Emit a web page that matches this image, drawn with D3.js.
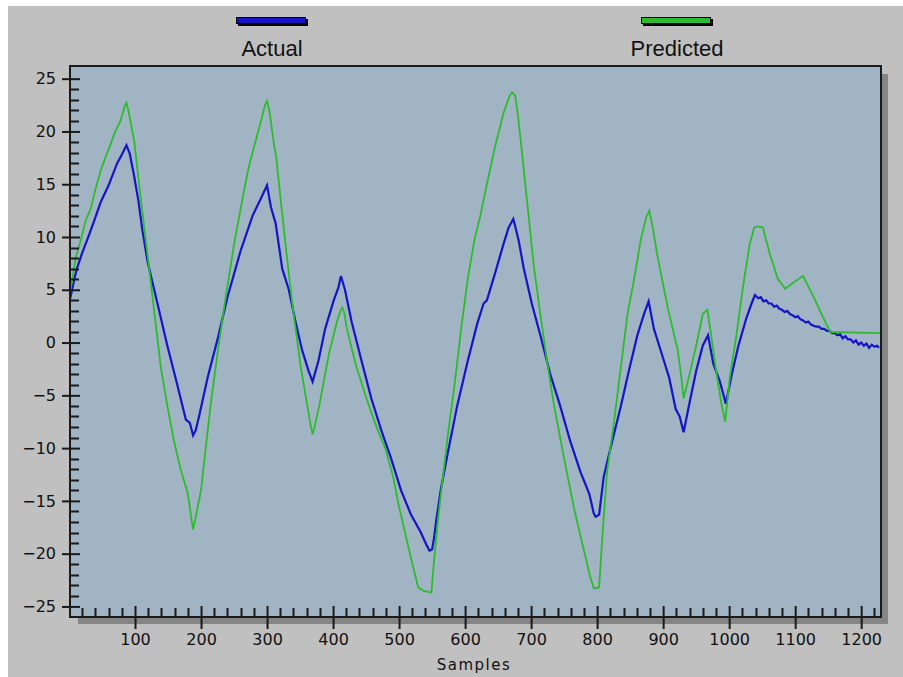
<!DOCTYPE HTML>
<html lang="en">
<head>
<meta charset="utf-8">
<title>Actual vs Predicted</title>
<style media="screen">
html, body {
    margin: 0;
    padding: 0;
    background: #fff;
 }

#chart {
    display: block;
 }

.tick-label {
    font-family: "DejaVu Sans", Verdana, sans-serif;
    font-size: 16px;
    fill: #111;
 }

.legend-label {
    font-family: "Liberation Sans", Arial, sans-serif;
    font-size: 22px;
    fill: #111;
 }

.axis-title {
    font-family: "DejaVu Sans", Verdana, sans-serif;
    font-size: 15px;
    letter-spacing: 1.5px;
    fill: #111;
 }
</style>
</head>
<body>

<svg id="chart" width="903" height="677"></svg>

<script src="https://cdn.jsdelivr.net/npm/d3@7/dist/d3.min.js"></script>
<script>
(function() {
   'use strict';

// Data
const actualSamples = [1, 4, 8, 12, 20, 28, 38, 48, 60, 73, 80, 87, 92, 98, 105, 111, 119, 126, 134, 149,
  164, 177, 183, 188, 192, 197, 210, 225, 240, 260, 278, 291, 300, 306, 313, 323, 333, 343, 353, 363,
  369, 378, 388, 401, 408, 412, 418, 428, 443, 458, 473, 488, 503, 518, 533, 541, 546, 550, 553, 556,
  563, 573, 588, 603, 618, 628, 633, 646, 658, 666, 673, 676, 681, 689, 701, 714, 729, 744, 759, 775,
  788, 795, 798, 803, 810, 823, 836, 848, 861, 871, 878, 886, 899, 909, 919, 925, 931, 940, 950, 960,
  968, 976, 986, 995, 1004, 1014, 1026, 1034, 1039,
  1044, 1048, 1052, 1056, 1060, 1064, 1068, 1072, 1076, 1080, 1084, 1088, 1092, 1096, 1100, 1104, 1108,
  1112, 1116, 1120, 1124, 1128, 1132, 1136, 1140, 1144, 1148, 1152, 1156, 1160, 1164, 1168, 1172, 1176,
  1180, 1184, 1188, 1192, 1196, 1200, 1204, 1208, 1212, 1216, 1220, 1224, 1227];
const actualValues = [4.0, 4.8, 6.0, 7.0, 8.5, 9.8, 11.5, 13.3, 14.9, 17.0, 17.8, 18.7, 17.9, 16.0, 13.5, 10.7, 7.7, 5.8, 3.7, -0.3,
  -4.0, -7.3, -7.6, -8.8, -8.3, -7.0, -3.3, 0.3, 4.3, 8.7, 12.0, 13.7, 14.9, 12.8, 11.3, 7.0, 5.0, 2.0, -0.7, -2.7,
  -3.7, -1.7, 1.3, 4.0, 5.2, 6.3, 5.0, 2.0, -1.7, -5.3, -8.3, -11.0, -14.0, -16.3, -18.0, -19.1, -19.7, -19.6, -18.5, -17.0,
  -14.0, -10.7, -6.0, -2.0, 1.7, 3.7, 4.0, 6.7, 9.3, 10.9, 11.7, 11.0, 9.7, 7.0, 3.7, 0.7, -3.0, -6.0, -9.3, -12.3,
  -14.3, -16.2, -16.5, -16.3, -12.7, -9.3, -6.0, -2.7, 0.7, 2.7, 3.9, 1.3, -1.3, -3.3, -6.3, -7.0, -8.5, -5.7, -2.7, -0.3,
  0.7, -2.0, -3.7, -5.8, -3.0, -0.3, 2.3, 3.7, 4.5,
  4.2, 4.3, 3.9, 4.0, 3.7, 3.7, 3.4, 3.5, 3.2, 3.1, 2.9, 3.0, 2.7, 2.6, 2.4, 2.5, 2.2,
  2.1, 1.9, 2.0, 1.7, 1.6, 1.5, 1.5, 1.3, 1.3, 1.1, 1.1, 0.9, 0.9, 0.7, 0.8, 0.4, 0.6,
  0.3, 0.3, 0.0, 0.2, -0.2, 0.0, -0.3, -0.1, -0.5, -0.2, -0.4, -0.3, -0.5];

const predictedSamples = [1, 5, 10, 17, 25, 33, 40, 48, 55, 63, 70, 78, 84, 87, 90, 95, 99, 108, 119, 129,
  139, 149, 159, 169, 180, 185, 188, 192, 200, 208, 215, 225, 235, 243, 250, 258, 266, 273, 281, 290,
  297, 300, 304, 310, 314, 321, 329, 339, 351, 361, 366, 369, 372, 379, 394, 406, 411, 414, 417, 421,
  434, 449, 464, 479, 491, 499, 509, 519, 529, 536, 549, 551, 559, 564, 574, 584, 594, 604, 614, 623,
  633, 646, 658, 667, 671, 676, 680, 684, 694, 704, 714, 724, 734, 750, 765, 780, 790, 795, 803, 808,
  815, 826, 836, 846, 856, 866, 874, 879, 884, 891, 907, 922, 927, 931, 940, 950, 960, 967, 972, 981,
  988, 994, 1001, 1011, 1021, 1031, 1038, 1044, 1051, 1062, 1074, 1085, 1100, 1112, 1128, 1143, 1153, 1228];
const predictedValues = [4.5, 6.0, 8.0, 9.5, 11.5, 12.7, 14.5, 16.3, 17.5, 18.8, 20.0, 21.0, 22.3, 22.7, 22.0, 20.3, 19.0, 14.0, 8.3, 3.0,
  -2.3, -6.0, -9.3, -12.0, -14.3, -16.5, -17.7, -16.5, -14.0, -9.5, -5.7, -1.0, 3.3, 6.5, 9.3, 12.0, 14.7, 16.8, 18.7, 20.8,
  22.5, 22.9, 21.8, 19.0, 17.5, 13.3, 8.7, 3.3, -2.3, -6.0, -7.8, -8.7, -8.0, -6.0, -1.0, 2.0, 3.0, 3.3, 2.8, 1.3,
  -2.0, -5.0, -7.7, -10.0, -12.7, -15.3, -18.0, -20.7, -23.2, -23.5, -23.7, -22.0, -16.7, -14.0, -8.7, -4.0, 1.3, 6.0, 9.7, 12.0,
  15.0, 18.7, 21.7, 23.3, 23.7, 23.4, 21.5, 19.3, 13.3, 7.3, 2.7, -1.7, -5.7, -11.0, -15.7, -19.7, -22.3, -23.3, -23.2, -18.3,
  -12.3, -7.3, -2.3, 2.7, 6.0, 9.7, 11.8, 12.5, 11.0, 8.3, 3.3, -0.7, -3.0, -5.3, -3.0, -0.3, 2.7, 3.1, 1.0, -3.0,
  -5.7, -7.5, -3.3, 0.7, 5.3, 9.3, 10.9, 11.0, 10.9, 8.3, 6.0, 5.1, 5.8, 6.3, 4.3, 2.3, 1.0, 0.9];

const seriesNames = ['Actual', 'Predicted'];
const seriesColors = ['#1414c8', '#2cbc2c'];
const xTickValues = [100, 200, 300, 400, 500, 600, 700, 800, 900, 1000, 1100, 1200];
const yTickValues = [-25, -20, -15, -10, -5, 0, 5, 10, 15, 20, 25];

// Layout
const plot = { left: 70, top: 66, right: 881, bottom: 617 };
const ink = '#1a1a1a';

const svg = d3.select('#chart');

// grey panel behind everything
svg.append('rect')
  .attr('x', 8).attr('y', 6)
  .attr('width', 903 - 8).attr('height', 677 - 6)
  .attr('fill', '#c0c0c0');

const x = d3.scaleLinear().domain([0, 1230]).range([69, plot.right]);
const y = d3.scaleLinear().domain([-26, 26.2]).range([plot.bottom, plot.top]);

// drop shadow of the plot frame
svg.append('rect')
  .attr('x', plot.left + 8).attr('y', plot.top + 8)
  .attr('width', plot.right - plot.left - 1).attr('height', plot.bottom - plot.top - 1)
  .attr('fill', '#858585');

svg.append('rect')
  .attr('x', plot.left).attr('y', plot.top)
  .attr('width', plot.right - plot.left).attr('height', plot.bottom - plot.top)
  .attr('fill', '#a1b4c4');

// Lines
const line = d3.line()
  .x(d => x(d[0]))
  .y(d => y(d[1]));

const series = [
  d3.zip(actualSamples, actualValues),
  d3.zip(predictedSamples, predictedValues)
];

svg.append('clipPath').attr('id', 'plot-clip')
  .append('rect')
  .attr('x', plot.left).attr('y', plot.top)
  .attr('width', plot.right - plot.left).attr('height', plot.bottom - plot.top);

const lines = svg.append('g').attr('clip-path', 'url(#plot-clip)');
// predicted drawn last so it sits on top like the original
[0, 1].forEach(i => {
  lines.append('path')
    .datum(series[i])
    .attr('fill', 'none')
    .attr('stroke', seriesColors[i])
    .attr('stroke-width', i === 0 ? 2.2 : 1.8)
    .attr('stroke-linejoin', 'miter')
    .attr('d', line);
});

// Frame
svg.append('rect')
  .attr('x', plot.left).attr('y', plot.top)
  .attr('width', plot.right - plot.left).attr('height', plot.bottom - plot.top)
  .attr('fill', 'none')
  .attr('stroke', ink)
  .attr('stroke-width', 2);

// Y axis: major ticks cross the frame, minor ticks point inward
const yAxis = svg.append('g')
  .attr('transform', 'translate(' + plot.left + ',0)')
  .call(d3.axisLeft(y).tickValues(yTickValues).tickSize(8).tickSizeOuter(0).tickPadding(6));
yAxis.select('.domain').remove();
yAxis.selectAll('.tick line').attr('x2', -8).attr('x1', 10).attr('stroke', ink).attr('stroke-width', 2);
yAxis.selectAll('.tick text').attr('class', 'tick-label').attr('fill', null);
yAxis.attr('font-family', null).attr('font-size', null);

svg.append('g').selectAll('line')
  .data(d3.range(-25, 26).filter(v => v % 5 !== 0))
  .join('line')
  .attr('x1', plot.left).attr('x2', plot.left + 9)
  .attr('y1', d => Math.round(y(d)) + 0.5).attr('y2', d => Math.round(y(d)) + 0.5)
  .attr('stroke', ink).attr('stroke-width', 2);

// X axis
const xAxis = svg.append('g')
  .attr('transform', 'translate(0,' + plot.bottom + ')')
  .call(d3.axisBottom(x).tickValues(xTickValues).tickFormat(d3.format('d'))
    .tickSize(12).tickSizeOuter(0).tickPadding(5));
xAxis.select('.domain').remove();
xAxis.selectAll('.tick line').attr('y1', -11).attr('y2', 12).attr('stroke', ink).attr('stroke-width', 2);
xAxis.selectAll('.tick text').attr('class', 'tick-label').attr('fill', null);
xAxis.attr('font-family', null).attr('font-size', null);

svg.append('g').selectAll('line')
  .data(d3.range(20, 1230, 20).filter(v => v % 100 !== 0))
  .join('line')
  .attr('x1', d => Math.round(x(d)) + 0.5).attr('x2', d => Math.round(x(d)) + 0.5)
  .attr('y1', plot.bottom - 9).attr('y2', plot.bottom)
  .attr('stroke', ink).attr('stroke-width', 2);

svg.append('text')
  .attr('class', 'axis-title')
  .attr('x', 474).attr('y', 670)
  .attr('text-anchor', 'middle')
  .text('Samples');

// Legend: swatch on top, name underneath
const legendX = [272, 677];
const legend = svg.append('g').selectAll('g')
  .data(seriesNames)
  .join('g')
  .attr('transform', (d, i) => 'translate(' + legendX[i] + ',0)');

legend.append('rect')
  .attr('x', -34).attr('y', 19)
  .attr('width', 70).attr('height', 7)
  .attr('fill', '#000');
legend.append('rect')
  .attr('x', -35.5).attr('y', 17.5)
  .attr('width', 69).attr('height', 6)
  .attr('fill', (d, i) => seriesColors[i])
  .attr('stroke', '#000')
  .attr('stroke-width', 1);

legend.append('text')
  .attr('class', 'legend-label')
  .attr('x', 0).attr('y', 56)
  .attr('text-anchor', 'middle')
  .text(d => d);

}());
</script>
</body>
</html>
